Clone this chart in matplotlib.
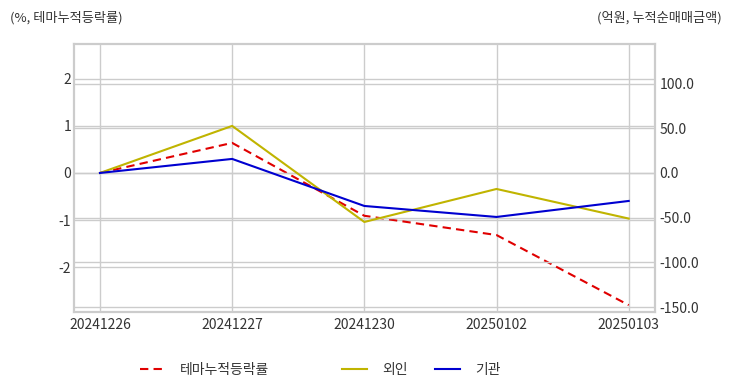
import matplotlib
matplotlib.use('Agg')
import matplotlib.pyplot as plt
from matplotlib.ticker import FormatStrFormatter

plt.rcParams['font.family'] = ['Noto Sans CJK KR', 'DejaVu Sans']
plt.rcParams['axes.unicode_minus'] = False

dates = ['20241226', '20241227', '20241230', '20250102', '20250103']
theme_rate = [0.0, 0.64, -0.91, -1.32, -2.81]      # %, left axis
foreign = [0.0, 52.6, -54.8, -17.9, -51.0]         # 억원, right axis
institution = [0.0, 15.7, -36.9, -49.2, -31.3]     # 억원, right axis

grid_c = '#cccccc'
text_c = '#333333'

fig = plt.figure(figsize=(7.32, 3.92), dpi=100)
ax = fig.add_axes([0.101, 0.204, 0.794, 0.684])
ax2 = ax.twinx()

x = list(range(len(dates)))
l1, = ax.plot(x, theme_rate, color='#e00000', linestyle=(0, (4, 2.5)), linewidth=1.5, label='테마누적등락률')
l2, = ax2.plot(x, foreign, color='#c0b400', linewidth=1.5, label='외인')
l3, = ax2.plot(x, institution, color='#0000d0', linewidth=1.5, label='기관')

ax.set_xlim(-0.197, 4.2)
ax.set_ylim(-2.957, 2.745)
ax2.set_ylim(-155.5, 144.3)
ax.set_xticks(x)
ax.set_xticklabels(dates)
ax.set_yticks([-2, -1, 0, 1, 2])
ax2.set_yticks([-150, -100, -50, 0, 50, 100])
ax2.yaxis.set_major_formatter(FormatStrFormatter('%.1f'))

for a in (ax, ax2):
    a.grid(True, color=grid_c, linewidth=1)
    a.set_axisbelow(True)
    a.tick_params(length=0, labelsize=10, colors=text_c, pad=3)
    for s in a.spines.values():
        s.set_color(grid_c)
        s.set_linewidth(1.5)
ax2.grid(axis='x', visible=False)
ax.tick_params(axis='x', pad=4)
ax.tick_params(axis='y', pad=2)

fig.text(0.014, 0.955, '(%, 테마누적등락률)', fontsize=9.5, color=text_c, ha='left', va='center')
fig.text(0.986, 0.955, '(억원, 누적순매매금액)', fontsize=9.5, color=text_c, ha='right', va='center')

leg1 = fig.legend(handles=[l1], loc='center left', bbox_to_anchor=(0.191, 0.057),
                  frameon=False, fontsize=10, handlelength=1.8, handletextpad=1.1,
                  borderaxespad=0, borderpad=0)
for t in leg1.get_texts():
    t.set_color(text_c)
leg2 = fig.legend(handles=[l2, l3], loc='center left', bbox_to_anchor=(0.467, 0.057),
                  ncol=2, frameon=False, fontsize=10, handlelength=1.8, handletextpad=1.1,
                  columnspacing=2.0, borderaxespad=0, borderpad=0)
for t in leg2.get_texts():
    t.set_color(text_c)

fig.savefig('out.png', dpi=100)
